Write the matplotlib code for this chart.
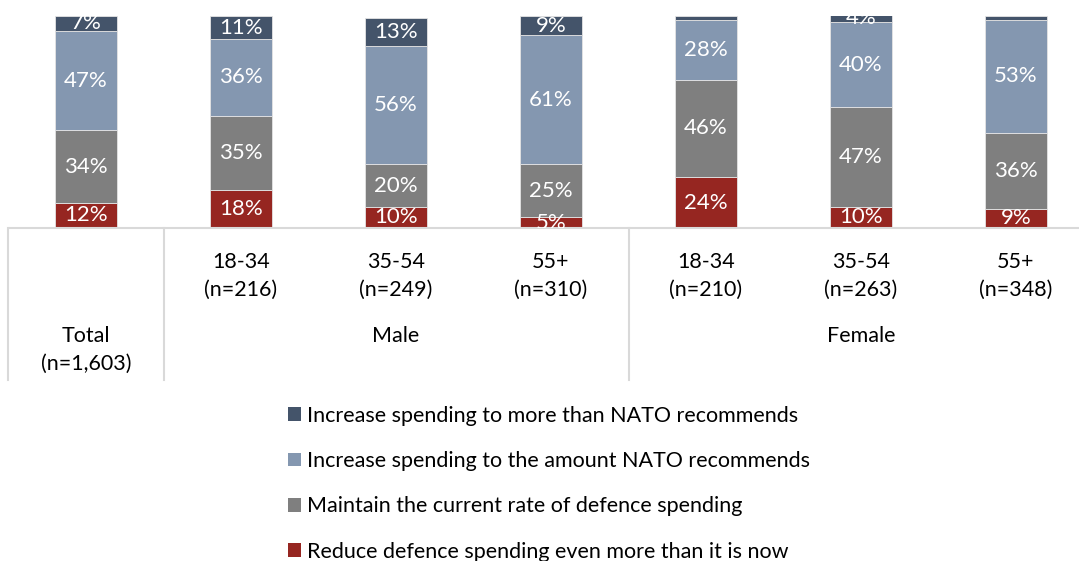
import numpy as np
import matplotlib.pyplot as plt
from matplotlib.patches import Patch

plt.rcParams['font.family'] = ['Lato', 'DejaVu Sans']

# survey groups, left to right
ages = ['', '18-34', '35-54', '55+', '18-34', '35-54', '55+']
sizes = ['(n=1,603)', '(n=216)', '(n=249)', '(n=310)', '(n=210)', '(n=263)', '(n=348)']
groups = ['Total', 'Male', 'Female']

# shares in percent, stacked bottom to top
reduce_more = [12, 18, 10, 5, 24, 10, 9]
maintain = [34, 35, 20, 25, 46, 47, 36]
increase_nato = [47, 36, 56, 61, 28, 40, 53]
increase_more = [7, 11, 13, 9, 2, 4, 2]
# segments too thin for a label
hide_label = [(3, 4), (3, 6)]

series = [reduce_more, maintain, increase_nato, increase_more]
names = ['Reduce defence spending even more than it is now',
         'Maintain the current rate of defence spending',
         'Increase spending to the amount NATO recommends',
         'Increase spending to more than NATO recommends']
colors = ['#962621', '#7f7f7f', '#8497b0', '#44546a']

W, H = 1079, 561
fig = plt.figure(figsize=(W / 100, H / 100), dpi=100)
ax = fig.add_axes([0, (H - 228) / H, 1, 212 / H])

x = np.arange(len(ages))
bottom = np.zeros(len(ages))
for s, (vals, col) in enumerate(zip(series, colors)):
    vals = np.array(vals, dtype=float)
    ax.bar(x, vals, 0.4, bottom=bottom, color=col, edgecolor='#e4e4e4', linewidth=0.6)
    for i, v in enumerate(vals):
        if (s, i) in hide_label:
            continue
        ax.text(x[i], bottom[i] + v / 2, f'{v:.0f}%', ha='center', va='center',
                color='white', fontsize=16, clip_on=True)
    bottom += vals

ax.set_xlim(-86 / 155, (W - 86) / 155)
ax.set_ylim(0, 100)
ax.axis('off')

# category table below the bars
grid = '#d9d9d9'
ax.axhline(0, xmin=(10 / W), xmax=1, color=grid, lw=1.5, clip_on=False)
tr = ax.get_xaxis_transform()
for xv in [-0.5, 0.5, 3.5]:
    ax.plot([xv, xv], [0, -152 / 212], color=grid, lw=1.5, transform=tr, clip_on=False)

fs = 15.5
for i in range(1, len(ages)):
    ax.text(x[i], -48 / 212, ages[i] + '\n' + sizes[i], transform=tr, ha='center',
            va='center', fontsize=fs, linespacing=1.45)
ax.text(0, -122 / 212, 'Total\n' + sizes[0], transform=tr, ha='center', va='center',
        fontsize=fs, linespacing=1.45)
ax.text(2, -108 / 212, groups[1], transform=tr, ha='center', va='center', fontsize=fs)
ax.text(5, -108 / 212, groups[2], transform=tr, ha='center', va='center', fontsize=fs)

handles = [Patch(facecolor=c) for c in colors[::-1]]
fig.legend(handles, names[::-1], loc='upper left', bbox_to_anchor=(279 / W, 1 - 397 / H),
           frameon=False, fontsize=15.5, handlelength=0.6, handleheight=0.6,
           handletextpad=0.3, labelspacing=1.18, borderaxespad=0)

fig.savefig('out.png', dpi=100)
